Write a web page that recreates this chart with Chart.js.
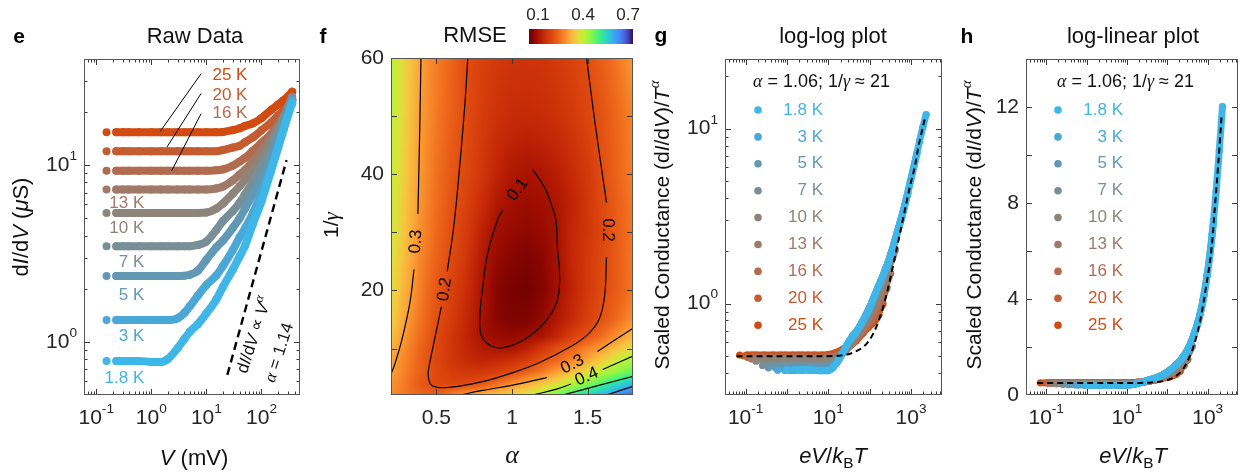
<!DOCTYPE html>
<html>
<head>
<meta charset="utf-8">
<script src="https://cdn.jsdelivr.net/npm/chart.js@4.4.0/dist/chart.umd.min.js"></script>
<style>
html, body { margin: 0; padding: 0; background: #fff; }
#wrap { position: relative; width: 1242px; height: 475px; overflow: hidden; }
canvas { position: absolute; left: 0; top: 0; }
</style>
</head>
<body>
<div id="wrap">
<canvas id="cE" width="1242" height="475"></canvas>
<canvas id="cF" width="1242" height="475"></canvas>
<canvas id="cBar" width="1242" height="475"></canvas>
<canvas id="cG" width="1242" height="475"></canvas>
<canvas id="cH" width="1242" height="475"></canvas>
</div>
<script>
const SANS = '"Liberation Sans", Arial, sans-serif';
const SERIF = '"Liberation Serif", "Times New Roman", serif';
const TXT = '#262626';
const TICK = 21;

// ---------- data: panel e (raw dI/dV vs V) ----------
const KB = 0.08617;   // k_B / e in mV per K
const ALPHA = 1.06;

const temps = [1.8, 3, 5, 7, 10, 13, 16, 20, 25];
const tempColors = ['#3fb6e8', '#4ba8d6', '#6199b5', '#798f98', '#8d857c', '#a07a68', '#b36b4f', '#c45b31', '#d24b10'];

const voltage = [0.154, 0.231, 0.308, 0.385, 0.6, 1, 1.5, 2, 3, 4, 5, 7, 10, 15, 20, 30, 40, 50, 70, 100, 150, 200, 250, 300, 360];

const cond1p8 = [0.78, 0.78, 0.78, 0.78, 0.78, 0.77, 0.77, 0.80, 0.92, 1.04, 1.14, 1.26, 1.45, 1.73, 2.05, 2.56, 3.04, 3.49, 4.66, 6.25, 9.33, 12.5, 15.8, 19.0, 22.4];
const cond3 = [1.33, 1.33, 1.33, 1.33, 1.33, 1.33, 1.33, 1.33, 1.36, 1.46, 1.59, 1.83, 2.10, 2.37, 2.69, 3.30, 3.91, 4.39, 5.38, 7.05, 9.78, 12.8, 16.0, 19.2, 23.2];
const cond5 = [2.36, 2.36, 2.36, 2.36, 2.36, 2.36, 2.36, 2.36, 2.36, 2.37, 2.40, 2.53, 2.92, 3.42, 3.75, 4.41, 5.01, 5.67, 6.89, 8.43, 11.0, 14.0, 16.8, 19.8, 23.4];
const cond7 = [3.48, 3.48, 3.48, 3.48, 3.48, 3.48, 3.48, 3.48, 3.48, 3.48, 3.48, 3.54, 3.70, 4.29, 4.84, 5.50, 6.13, 6.84, 8.10, 9.90, 12.6, 15.3, 18.1, 21.2, 24.4];
const cond10 = [5.37, 5.37, 5.37, 5.37, 5.37, 5.37, 5.37, 5.37, 5.37, 5.37, 5.37, 5.37, 5.40, 5.68, 6.08, 6.90, 7.60, 8.27, 9.40, 11.0, 13.8, 16.3, 18.6, 20.4, 23.3];
const cond13 = [7.30, 7.30, 7.30, 7.30, 7.30, 7.30, 7.30, 7.30, 7.30, 7.30, 7.30, 7.30, 7.30, 7.39, 7.58, 8.20, 8.87, 9.40, 10.6, 12.1, 14.4, 16.5, 18.2, 20.2, 22.5];
const cond16 = [9.30, 9.30, 9.30, 9.30, 9.30, 9.30, 9.30, 9.30, 9.30, 9.30, 9.30, 9.30, 9.30, 9.37, 9.47, 9.94, 10.5, 11.0, 12.1, 13.4, 15.1, 17.3, 19.2, 21.0, 23.2];
const cond20 = [12.0, 12.0, 12.0, 12.0, 12.0, 12.0, 12.0, 12.0, 12.0, 12.0, 12.0, 12.0, 12.0, 12.0, 12.2, 12.6, 12.9, 13.5, 14.4, 15.8, 17.5, 19.2, 20.4, 21.8, 23.8];
const cond25 = [15.4, 15.4, 15.4, 15.4, 15.4, 15.4, 15.4, 15.4, 15.4, 15.4, 15.4, 15.4, 15.4, 15.4, 15.45, 15.8, 16.2, 16.7, 17.3, 18.5, 20.6, 22.1, 23.3, 24.5, 26.1];
const conductance = [cond1p8, cond3, cond5, cond7, cond10, cond13, cond16, cond20, cond25];

// dashed guide dI/dV ~ V^alpha (alpha = 1.14)
const powerLawV = [24, 285];
const powerLawG = [0.65, 10.7];

// label anchors in panel e (data coordinates)
const eLabelV = [0.746, 0.746, 0.746, 0.746, 0.746, 0.746, 55.6, 55.6, 55.6];
const eLabelG = [0.62, 1.07, 1.84, 2.84, 4.4, 6.1, 19.7, 24.9, 32.3];
const leaderFrom = [[8.0, 19.6], [8.0, 25.5], [8.0, 33.0]];
const leaderTo = [[2.34, 9.3], [1.93, 12.7], [1.46, 15.6]];

// ---------- data: panel f (RMSE map) ----------
const alphaGrid = [0.2, 0.3, 0.4, 0.5, 0.6, 0.7, 0.8, 0.9, 1.0, 1.1, 1.2, 1.3, 1.4, 1.5, 1.6, 1.7, 1.8];
const invGammaGrid = [2, 4, 6, 8, 10, 12, 15, 20, 25, 30, 35, 40, 50, 60];
const rmseRow2  = [0.28, 0.255, 0.235, 0.225, 0.26, 0.305, 0.32, 0.34, 0.36, 0.385, 0.42, 0.47, 0.52, 0.555, 0.595, 0.64, 0.68];
const rmseRow4  = [0.29, 0.258, 0.215, 0.195, 0.19, 0.19, 0.21, 0.245, 0.28, 0.31, 0.34, 0.37, 0.41, 0.45, 0.50, 0.545, 0.59];
const rmseRow6  = [0.302, 0.265, 0.228, 0.195, 0.17, 0.16, 0.162, 0.175, 0.198, 0.23, 0.262, 0.30, 0.335, 0.37, 0.41, 0.445, 0.48];
const rmseRow8  = [0.305, 0.27, 0.228, 0.19, 0.16, 0.14, 0.13, 0.135, 0.148, 0.17, 0.21, 0.24, 0.275, 0.31, 0.35, 0.395, 0.425];
const rmseRow10 = [0.325, 0.275, 0.232, 0.192, 0.16, 0.135, 0.115, 0.105, 0.102, 0.125, 0.16, 0.205, 0.235, 0.27, 0.30, 0.34, 0.375];
const rmseRow12 = [0.34, 0.285, 0.24, 0.195, 0.16, 0.13, 0.10, 0.085, 0.082, 0.09, 0.105, 0.135, 0.18, 0.215, 0.25, 0.29, 0.33];
const rmseRow15 = [0.355, 0.30, 0.25, 0.205, 0.17, 0.135, 0.10, 0.07, 0.058, 0.058, 0.08, 0.11, 0.14, 0.175, 0.21, 0.245, 0.285];
const rmseRow20 = [0.37, 0.315, 0.262, 0.215, 0.18, 0.145, 0.105, 0.07, 0.052, 0.048, 0.065, 0.095, 0.13, 0.165, 0.198, 0.225, 0.255];
const rmseRow25 = [0.38, 0.325, 0.27, 0.23, 0.195, 0.158, 0.11, 0.08, 0.065, 0.058, 0.07, 0.098, 0.135, 0.165, 0.195, 0.225, 0.26];
const rmseRow30 = [0.39, 0.335, 0.28, 0.24, 0.202, 0.168, 0.125, 0.092, 0.08, 0.075, 0.082, 0.10, 0.135, 0.16, 0.19, 0.225, 0.255];
const rmseRow35 = [0.395, 0.34, 0.285, 0.245, 0.21, 0.18, 0.145, 0.11, 0.092, 0.088, 0.092, 0.105, 0.13, 0.16, 0.195, 0.228, 0.26];
const rmseRow40 = [0.40, 0.345, 0.29, 0.25, 0.216, 0.19, 0.16, 0.13, 0.108, 0.10, 0.106, 0.12, 0.14, 0.165, 0.203, 0.235, 0.265];
const rmseRow50 = [0.41, 0.352, 0.295, 0.26, 0.228, 0.198, 0.172, 0.152, 0.142, 0.14, 0.143, 0.152, 0.166, 0.188, 0.211, 0.24, 0.27];
const rmseRow60 = [0.41, 0.355, 0.30, 0.265, 0.232, 0.202, 0.18, 0.165, 0.157, 0.155, 0.158, 0.167, 0.182, 0.201, 0.228, 0.258, 0.295];
const rmse = [rmseRow2, rmseRow4, rmseRow6, rmseRow8, rmseRow10, rmseRow12, rmseRow15, rmseRow20, rmseRow25, rmseRow30, rmseRow35, rmseRow40, rmseRow50, rmseRow60];

// contour lines [alpha, 1/gamma], split where the labels sit
const contour01 = [[0.939, 33.9], [0.906, 32.2], [0.84, 26.5], [0.807, 20.7], [0.787, 15.0], [0.80, 12.1], [0.866, 10.4], [0.952, 10.2], [1.084, 11.6], [1.216, 14.5], [1.295, 17.9], [1.315, 21.9], [1.30, 27.6], [1.29, 32.2], [1.262, 34.6], [1.216, 37.7], [1.137, 40.8]];
const contour02a = [[0.708, 60], [0.688, 51.9], [0.655, 41.6], [0.615, 31], [0.572, 23.3]];
const contour02b = [[0.533, 17.2], [0.51, 14.3], [0.485, 11.2], [0.457, 7.6], [0.446, 5.3], [0.475, 3.55], [0.60, 3.35], [0.82, 4.4], [1.0, 5.8], [1.183, 7.6], [1.38, 10.2], [1.50, 12.4], [1.575, 15], [1.612, 19], [1.625, 25.7]];
const contour02c = [[1.625, 35.1], [1.579, 43.3], [1.533, 51.9], [1.493, 60]];
const contour03a = [[0.398, 60], [0.391, 49], [0.378, 33.2]];
const contour03b = [[0.352, 23.6], [0.325, 17.9], [0.273, 11.6], [0.225, 7.3], [0.2, 5.6]];
const contour03c = [[0.66, 2], [0.787, 2.7], [1.005, 3.7], [1.23, 5.0]];
const contour03d = [[1.565, 9.5], [1.8, 13.5]];
const contour04a = [[1.137, 2], [1.295, 3.0], [1.39, 3.9]];
const contour04b = [[1.60, 6.4], [1.8, 8.7]];
const contour05 = [[1.335, 2], [1.58, 3.7], [1.8, 5.2]];
const contour06 = [[1.625, 2], [1.8, 3.5]];
const contourLines = [contour01, contour02a, contour02b, contour02c, contour03a, contour03b, contour03c, contour03d, contour04a, contour04b, contour05, contour06];

const contourLabelText = ['0.1', '0.2', '0.2', '0.3', '0.3', '0.4'];
const contourLabelAlpha = [1.038, 0.556, 1.63, 0.365, 1.40, 1.495];
const contourLabelGamma = [37.35, 20.2, 30.4, 28.4, 7.25, 5.15];
const contourLabelAngle = [-53, -81, 90, -86, -27, -23];

// colour scale of the RMSE map
const cmapStops = [[0.04, '#6c0000'], [0.07, '#8a0600'], [0.10, '#a81200'], [0.13, '#c02406'], [0.16, '#d0360a'], [0.20, '#e04c10'], [0.24, '#ee681c'], [0.28, '#f88c2c'], [0.31, '#fba83a'], [0.34, '#f6c43e'], [0.37, '#e2dc3c'], [0.40, '#c4ee36'], [0.44, '#98f640'], [0.49, '#58f46c'], [0.53, '#2ee6a0'], [0.57, '#2ccbd4'], [0.61, '#3aa6f2'], [0.65, '#4680f4'], [0.69, '#4555d0'], [0.73, '#30175a']];
const barTicks = [0.1, 0.4, 0.7];

// ---------- data: panels g, h (fit curve) ----------
const fitX = [0.06, 5, 20, 40, 90, 150, 250, 450, 650, 950, 1260, 1500, 1820, 2200];
const fitY = [0.5, 0.5, 0.505, 0.525, 0.6, 0.75, 1.1, 2.05, 3.1, 4.7, 6.2, 7.8, 9.6, 11.6];

// ---------- helpers ----------
function fontOf(p, size) {
  return (p.i ? 'italic ' : '') + (p.b ? 'bold ' : '') + (size * (p.s || 1)) + 'px ' + (p.f === 'serif' ? SERIF : SANS);
}
function rich(ctx, parts, x, y, size, align, rot, color) {
  ctx.save();
  ctx.translate(x, y);
  ctx.rotate((rot || 0) * Math.PI / 180);
  ctx.textAlign = 'left';
  ctx.textBaseline = 'middle';
  ctx.fillStyle = color || TXT;
  let w = 0;
  const ws = parts.map(p => { ctx.font = fontOf(p, size); const m = ctx.measureText(p.t).width; w += m; return m; });
  let cx = align === 'center' ? -w / 2 : align === 'right' ? -w : 0;
  parts.forEach((p, i) => { ctx.font = fontOf(p, size); ctx.fillText(p.t, cx, (p.dy || 0) * size); cx += ws[i]; });
  ctx.restore();
}
const pow10 = e => [{t: '10'}, {t: String(e), s: 0.65, dy: -0.42}];

function logTicks(min, max) {
  const out = [];
  for (let d = Math.floor(Math.log10(min)); d <= Math.ceil(Math.log10(max)); d++) {
    for (let k = 1; k <= 9; k++) {
      const v = k * Math.pow(10, d);
      if (v > min * 1.001 && v < max * 0.999) out.push({v: v, major: k === 1});
    }
  }
  return out;
}

function frame(spec) {
  return {
    id: 'frame',
    afterDatasetsDraw(chart) {
      const {ctx, chartArea: a, scales: {x, y}} = chart;
      ctx.save();
      ctx.strokeStyle = '#3a3a3a';
      ctx.lineWidth = 1;
      ctx.beginPath();
      spec.xTicks.forEach(t => {
        const p = Math.round(x.getPixelForValue(t.v)) + 0.5, L = t.major ? 6 : 3.5;
        ctx.moveTo(p, a.bottom); ctx.lineTo(p, a.bottom - L);
        ctx.moveTo(p, a.top); ctx.lineTo(p, a.top + L);
      });
      spec.yTicks.forEach(t => {
        const p = Math.round(y.getPixelForValue(t.v)) + 0.5, L = t.major ? 6 : 3.5;
        ctx.moveTo(a.left, p); ctx.lineTo(a.left + L, p);
        ctx.moveTo(a.right, p); ctx.lineTo(a.right - L, p);
      });
      ctx.stroke();
      ctx.strokeStyle = '#555';
      ctx.strokeRect(a.left + 0.5, a.top + 0.5, a.right - a.left - 1, a.bottom - a.top - 1);
      spec.xLabels.forEach(l => rich(ctx, l.parts, x.getPixelForValue(l.v), a.bottom + 23, TICK, 'center'));
      spec.yLabels.forEach(l => rich(ctx, l.parts, a.left - 7, y.getPixelForValue(l.v), TICK, 'right'));
      if (spec.extra) spec.extra(chart);
      ctx.restore();
    }
  };
}

function band(points, color, width, radius) {
  return {
    data: points, showLine: true,
    borderColor: color, backgroundColor: color, pointBackgroundColor: color,
    borderWidth: width, pointRadius: radius, pointBorderWidth: 0,
    borderCapStyle: 'round', borderJoinStyle: 'round',
    cubicInterpolationMode: 'monotone',
    segment: { borderColor: c => c.p0DataIndex === 0 ? 'rgba(0,0,0,0)' : undefined }
  };
}
function dashed(xs, ys, width, dash) {
  return {
    data: xs.map((v, i) => ({x: v, y: ys[i]})), showLine: true,
    borderColor: '#000', borderWidth: width, borderDash: dash,
    pointRadius: 0, cubicInterpolationMode: 'monotone'
  };
}
function baseOptions(area, xs, ys) {
  return {
    responsive: false, animation: false, events: [],
    layout: { padding: { left: area[0], top: area[1], right: 1242 - area[2], bottom: 475 - area[3] } },
    plugins: { legend: { display: false }, tooltip: { enabled: false } },
    scales: { x: Object.assign({ display: false }, xs), y: Object.assign({ display: false }, ys) }
  };
}

// ---------- panel e ----------
const ePoints = temps.map((T, i) => voltage.map((v, j) => ({x: v, y: conductance[i][j]})));
new Chart(document.getElementById('cE'), {
  type: 'scatter',
  data: { datasets: [dashed(powerLawV, powerLawG, 2.4, [8, 5])].concat(ePoints.map((p, i) => band(p, tempColors[i], 8, 4))) },
  options: baseOptions([84, 59, 300, 395], {type: 'logarithmic', min: 0.06, max: 500}, {type: 'logarithmic', min: 0.5, max: 40}),
  plugins: [frame({
    xTicks: logTicks(0.06, 500), yTicks: logTicks(0.5, 40),
    xLabels: [-1, 0, 1, 2].map(e => ({v: Math.pow(10, e), parts: pow10(e)})),
    yLabels: [0, 1].map(e => ({v: Math.pow(10, e), parts: pow10(e)})),
    extra(chart) {
      const {ctx, scales: {x, y}} = chart;
      ctx.strokeStyle = '#000'; ctx.lineWidth = 1;
      ctx.beginPath();
      leaderFrom.forEach((p, i) => {
        ctx.moveTo(x.getPixelForValue(p[0]), y.getPixelForValue(p[1]));
        ctx.lineTo(x.getPixelForValue(leaderTo[i][0]), y.getPixelForValue(leaderTo[i][1]));
      });
      ctx.stroke();
      temps.forEach((T, i) => rich(ctx, [{t: T + ' K'}], x.getPixelForValue(eLabelV[i]), y.getPixelForValue(eLabelG[i]), 17, 'right', 0, tempColors[i]));
      rich(ctx, [{t: 'd'}, {t: 'I', i: 1}, {t: '/d'}, {t: 'V', i: 1}, {t: ' \u221d '}, {t: 'V', i: 1}, {t: '\u03b1', i: 1, f: 'serif', s: 0.75, dy: -0.38}],
        x.getPixelForValue(74.6), y.getPixelForValue(1.09), 17, 'center', -72, '#111');
      rich(ctx, [{t: '\u03b1', i: 1, f: 'serif'}, {t: ' = 1.14'}], x.getPixelForValue(212), y.getPixelForValue(0.867), 17, 'center', -72, '#111');
      rich(ctx, [{t: 'Raw Data'}], 195, 37, 22, 'center', 0, '#111');
      rich(ctx, [{t: 'e', b: 1}], 19, 37, 21, 'center', 0, '#000');
      rich(ctx, [{t: 'V', i: 1}, {t: ' (mV)'}], 194, 459, 22, 'center', 0, '#111');
      rich(ctx, [{t: 'd'}, {t: 'I', i: 1}, {t: '/d'}, {t: 'V', i: 1}, {t: ' ('}, {t: '\u03bc', i: 1}, {t: 'S)'}], 22, 227, 22, 'center', -90, '#111');
    }
  })]
});

// ---------- panel f ----------
function locate(arr, v) {
  if (v <= arr[0]) return [0, 0];
  for (let i = 0; i < arr.length - 1; i++) if (v <= arr[i + 1]) return [i, (v - arr[i]) / (arr[i + 1] - arr[i])];
  return [arr.length - 2, 1];
}
function rmseAt(a, g) {
  const [ci, cf] = locate(alphaGrid, a);
  const [ri, rf] = locate(invGammaGrid, g);
  const r0 = rmse[ri], r1 = rmse[ri + 1];
  return (r0[ci] * (1 - cf) + r0[ci + 1] * cf) * (1 - rf) + (r1[ci] * (1 - cf) + r1[ci + 1] * cf) * rf;
}
const cmapRGB = cmapStops.map(s => [s[0], [1, 3, 5].map(k => parseInt(s[1].slice(k, k + 2), 16))]);
function cmap(v) {
  if (v <= cmapRGB[0][0]) return cmapRGB[0][1];
  for (let i = 0; i < cmapRGB.length - 1; i++) {
    const [v0, c0] = cmapRGB[i], [v1, c1] = cmapRGB[i + 1];
    if (v <= v1) { const t = (v - v0) / (v1 - v0); return [0, 1, 2].map(k => c0[k] + (c1[k] - c0[k]) * t); }
  }
  return cmapRGB[cmapRGB.length - 1][1];
}
const heatmap = {
  id: 'heatmap',
  beforeDatasetsDraw(chart) {
    const {ctx, chartArea: a, scales: {x, y}} = chart;
    const w = Math.round(a.right - a.left), h = Math.round(a.bottom - a.top);
    const img = ctx.createImageData(w, h);
    for (let j = 0; j < h; j++) {
      const g = y.getValueForPixel(a.top + j + 0.5);
      for (let i = 0; i < w; i++) {
        const c = cmap(rmseAt(x.getValueForPixel(a.left + i + 0.5), g));
        const o = (j * w + i) * 4;
        img.data[o] = c[0]; img.data[o + 1] = c[1]; img.data[o + 2] = c[2]; img.data[o + 3] = 255;
      }
    }
    ctx.putImageData(img, Math.round(a.left), Math.round(a.top));
  }
};
new Chart(document.getElementById('cF'), {
  type: 'scatter',
  data: { datasets: contourLines.map(line => ({
    data: line.map(p => ({x: p[0], y: p[1]})), showLine: true,
    borderColor: '#000', borderWidth: 1.2, pointRadius: 0, tension: 0.4
  })) },
  options: baseOptions([391, 58, 633, 395], {type: 'linear', min: 0.2, max: 1.8}, {type: 'linear', min: 2, max: 60}),
  plugins: [heatmap, frame({
    xTicks: [0.5, 1, 1.5].map(v => ({v: v, major: true})),
    yTicks: [10, 20, 30, 40, 50].map(v => ({v: v, major: true})),
    xLabels: [0.5, 1, 1.5].map(v => ({v: v, parts: [{t: String(v)}]})),
    yLabels: [20, 40, 60].map(v => ({v: v, parts: [{t: String(v)}]})),
    extra(chart) {
      const {ctx, scales: {x, y}} = chart;
      contourLabelText.forEach((t, i) => rich(ctx, [{t: t}], x.getPixelForValue(contourLabelAlpha[i]), y.getPixelForValue(contourLabelGamma[i]), 17, 'center', contourLabelAngle[i], '#000'));
      rich(ctx, [{t: 'f', b: 1}], 323, 37, 21, 'center', 0, '#000');
      rich(ctx, [{t: '\u03b1', i: 1, f: 'serif'}], 512, 456, 26, 'center', 0, '#111');
      rich(ctx, [{t: '1/'}, {t: '\u03b3', i: 1, f: 'serif'}], 332, 225, 21, 'center', -90, '#111');
    }
  })]
});

// ---------- colour bar ----------
new Chart(document.getElementById('cBar'), {
  type: 'scatter',
  data: { datasets: [] },
  options: baseOptions([529, 29, 633, 44], {type: 'linear', min: 0.04, max: 0.733}, {type: 'linear', min: 0, max: 1}),
  plugins: [{
    id: 'bar',
    afterDraw(chart) {
      const {ctx, chartArea: a, scales: {x}} = chart;
      for (let px = Math.round(a.left); px < Math.round(a.right); px++) {
        const c = cmap(x.getValueForPixel(px + 0.5));
        ctx.fillStyle = 'rgb(' + c.map(Math.round).join(',') + ')';
        ctx.fillRect(px, a.top, 1, a.bottom - a.top);
      }
      barTicks.forEach(v => rich(ctx, [{t: String(v)}], x.getPixelForValue(v), 15, 17, 'center', 0, TXT));
      rich(ctx, [{t: 'RMSE'}], 475, 36, 22, 'center', 0, '#111');
    }
  }]
});

// ---------- panels g and h ----------
const scaledPoints = temps.map((T, i) => voltage.map((v, j) => ({x: v / (KB * T), y: conductance[i][j] / Math.pow(T, ALPHA)})));

function legendDraw(ctx, left, dotX, labelRight) {
  rich(ctx, [{t: '\u03b1', i: 1, f: 'serif'}, {t: ' = 1.06; 1/'}, {t: '\u03b3', i: 1, f: 'serif'}, {t: ' \u2248 21'}], left, 82, 18, 'left', 0, '#111');
  temps.forEach((T, i) => {
    const yy = 110 + i * 26.9;
    ctx.fillStyle = tempColors[i];
    ctx.beginPath(); ctx.arc(dotX, yy, 3.8, 0, Math.PI * 2); ctx.fill();
    rich(ctx, [{t: T + ' K'}], labelRight, yy, 17, 'right', 0, tempColors[i]);
  });
}
const yTitle = [{t: 'Scaled Conductance (d'}, {t: 'I', i: 1}, {t: '/d'}, {t: 'V', i: 1}, {t: ')/'}, {t: 'T', i: 1}, {t: '\u03b1', i: 1, f: 'serif', s: 0.72, dy: -0.4}];
const xTitle = [{t: 'eV', i: 1}, {t: '/'}, {t: 'k', i: 1}, {t: 'B', s: 0.7, dy: 0.3}, {t: 'T', i: 1}];
const scaledX = {type: 'logarithmic', min: Math.pow(10, -1.5), max: Math.pow(10, 3.75)};
const gDatasets = () => [dashed(fitX, fitY, 2, [6, 4])].concat(scaledPoints.map((p, i) => band(p, tempColors[i], 7, 3.6)));

new Chart(document.getElementById('cG'), {
  type: 'scatter',
  data: { datasets: gDatasets() },
  options: baseOptions([725, 59, 942, 395], scaledX, {type: 'logarithmic', min: 0.3, max: 25}),
  plugins: [frame({
    xTicks: logTicks(scaledX.min, scaledX.max), yTicks: logTicks(0.3, 25),
    xLabels: [-1, 1, 3].map(e => ({v: Math.pow(10, e), parts: pow10(e)})),
    yLabels: [0, 1].map(e => ({v: Math.pow(10, e), parts: pow10(e)})),
    extra(chart) {
      const ctx = chart.ctx;
      legendDraw(ctx, 753, 758, 823);
      rich(ctx, [{t: 'log-log plot'}], 833, 37, 22, 'center', 0, '#111');
      rich(ctx, [{t: 'g', b: 1}], 661, 36, 21, 'center', 0, '#000');
      rich(ctx, xTitle, 833, 457, 22, 'center', 0, '#111');
      rich(ctx, yTitle, 663, 225, 21, 'center', -90, '#111');
    }
  })]
});

new Chart(document.getElementById('cH'), {
  type: 'scatter',
  data: { datasets: gDatasets() },
  options: baseOptions([1026, 59, 1241, 395], scaledX, {type: 'linear', min: 0, max: 14}),
  plugins: [frame({
    xTicks: logTicks(scaledX.min, scaledX.max), yTicks: [2, 4, 6, 8, 10, 12].map(v => ({v: v, major: true})),
    xLabels: [-1, 1, 3].map(e => ({v: Math.pow(10, e), parts: pow10(e)})),
    yLabels: [0, 4, 8, 12].map(v => ({v: v, parts: [{t: String(v)}]})),
    extra(chart) {
      const ctx = chart.ctx;
      legendDraw(ctx, 1057, 1058, 1123);
      rich(ctx, [{t: 'log-linear plot'}], 1133, 37, 22, 'center', 0, '#111');
      rich(ctx, [{t: 'h', b: 1}], 967, 37, 21, 'center', 0, '#000');
      rich(ctx, xTitle, 1133, 457, 22, 'center', 0, '#111');
      rich(ctx, yTitle, 975, 225, 21, 'center', -90, '#111');
    }
  })]
});
</script>
</body>
</html>
